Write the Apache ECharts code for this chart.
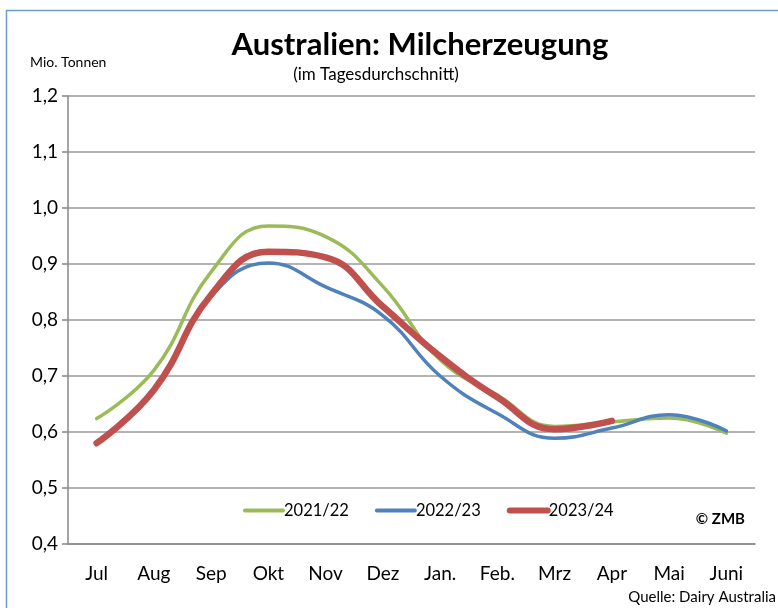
<!DOCTYPE html>
<html><head><meta charset="utf-8">
<script src="https://cdn.jsdelivr.net/npm/echarts@6/dist/echarts.min.js"></script>
<style>html,body{margin:0;padding:0;background:#fff}#c{width:778px;height:608px}</style>
</head><body><div id="c"></div>
<script>
var categories = ['Jul','Aug','Sep','Okt','Nov','Dez','Jan.','Feb.','Mrz','Apr','Mai','Juni'];
var s2021 = [0.624, 0.71, 0.886, 0.968, 0.949, 0.86, 0.729, 0.666, 0.61, 0.618, 0.625, 0.598];
var s2022 = [0.579, 0.673, 0.842, 0.902, 0.859, 0.808, 0.70, 0.633, 0.589, 0.607, 0.631, 0.602];
var s2023 = [0.58, 0.675, 0.845, 0.922, 0.912, 0.824, 0.735, 0.662, 0.605, 0.62];
var seriesNames = ['2021/22','2022/23','2023/24'];
var yTicks = {min: 0.4, max: 1.2, interval: 0.1};

var colors = ['#9bbb59', '#4f81bd', '#c0504d'];
var widths = [3.5, 3.5, 6.5];
var font = 'Lato, "Open Sans", sans-serif';
var chart = echarts.init(document.getElementById('c'));
chart.setOption({
  animation: false,
  textStyle: {fontFamily: font},
  grid: {left: 68, right: 23, top: 96, bottom: 64, containLabel: false},
  graphic: [
    {type: 'rect', shape: {x: 6.5, y: 10.5, width: 800, height: 700}, style: {fill: 'none', stroke: '#6f9bd1', lineWidth: 1.5}},
    {type: 'text', style: {text: 'Australien: Milcherzeugung', x: 420, y: 45, textAlign: 'center', textVerticalAlign: 'middle', font: 'bold 31px ' + font, fill: '#000'}},
    {type: 'text', style: {text: '(im Tagesdurchschnitt)', x: 376, y: 75, textAlign: 'center', textVerticalAlign: 'middle', font: '17px ' + font, fill: '#000'}},
    {type: 'text', style: {text: 'Mio. Tonnen', x: 30, y: 62, textAlign: 'left', textVerticalAlign: 'middle', font: '14px ' + font, fill: '#000'}},
    {type: 'text', style: {text: '\u00a9 ZMB', x: 745, y: 519, textAlign: 'right', textVerticalAlign: 'middle', font: 'bold 15px ' + font, fill: '#000'}},
    {type: 'text', style: {text: 'Quelle: Dairy Australia', x: 776, y: 597, textAlign: 'right', textVerticalAlign: 'middle', font: '15px ' + font, fill: '#000'}}
  ],
  legend: {
    left: 238, top: 497, itemWidth: 38, itemHeight: 14, itemGap: 26,
    itemStyle: {opacity: 0},
    textStyle: {fontSize: 16.5, color: '#000', fontFamily: font, padding: [0,0,0,-4]},
    data: seriesNames.map(function(n, i){
      return {name: n, lineStyle: {color: colors[i], width: i === 2 ? 6 : 4, cap: 'round'}};
    })
  },
  xAxis: {
    type: 'category', data: categories, boundaryGap: true,
    axisLine: {lineStyle: {color: '#868686', width: 1.5}},
    axisTick: {length: 6, lineStyle: {color: '#868686', width: 1.5}},
    axisLabel: {fontSize: 19, color: '#000', margin: 20, fontFamily: font}
  },
  yAxis: {
    type: 'value', min: yTicks.min, max: yTicks.max, interval: yTicks.interval,
    axisLine: {show: true, lineStyle: {color: '#868686', width: 1.5}},
    axisTick: {show: true, inside: false, length: 6, lineStyle: {color: '#868686', width: 1.5}},
    splitLine: {lineStyle: {color: '#9a9a9a', width: 1.5}},
    axisLabel: {fontSize: 19, color: '#000', margin: 10, fontFamily: font,
      formatter: function(v){ return v.toFixed(1).replace('.', ','); }}
  },
  series: [
    {name: seriesNames[0], type: 'line', data: s2021, smooth: 0.45, symbol: 'none',
      lineStyle: {color: colors[0], width: widths[0], cap: 'round'}, itemStyle: {color: colors[0]}, z: 2},
    {name: seriesNames[1], type: 'line', data: s2022, smooth: 0.45, symbol: 'none',
      lineStyle: {color: colors[1], width: widths[1], cap: 'round'}, itemStyle: {color: colors[1]}, z: 3},
    {name: seriesNames[2], type: 'line', data: s2023, smooth: 0.45, symbol: 'none',
      lineStyle: {color: colors[2], width: widths[2], cap: 'round'}, itemStyle: {color: colors[2]}, z: 4}
  ]
});
</script></body></html>
